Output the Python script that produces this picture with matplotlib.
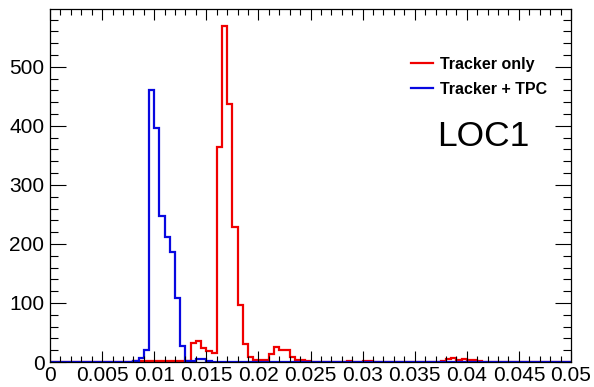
import numpy as np
import matplotlib
matplotlib.use("Agg")
from matplotlib import pyplot as plt
from matplotlib.ticker import MultipleLocator, FixedLocator, FixedFormatter

plt.rcParams['font.family'] = ['Liberation Sans', 'DejaVu Sans']

# 100 bins from 0 to 0.05
x_min, x_max, n_bins = 0.0, 0.05, 100

tracker_only = [
    0, 0, 0, 0, 0, 0, 0, 0, 0, 0, 0, 0, 0, 0, 0, 0, 1, 1, 1, 1,
    1, 1, 1, 1, 1, 1, 1, 33, 35, 24, 18, 16, 365, 570, 437, 229, 97, 30, 9, 3,
    3, 3, 13, 26, 20, 20, 9, 3, 3, 1, 0, 0, 0, 0, 0, 0, 0, 1, 0, 0,
    2, 1, 0, 0, 0, 0, 0, 0, 0, 0, 0, 0, 0, 0, 0, 2, 5, 7, 4, 5,
    3, 4, 2, 0, 0, 0, 0, 0, 0, 0, 0, 0, 0, 0, 0, 0, 0, 0, 0, 0,
]
tracker_tpc = [
    0, 0, 0, 0, 0, 0, 0, 0, 0, 0, 0, 0, 0, 0, 0, 0, 2, 6, 21, 460,
    397, 247, 212, 187, 108, 27, 2, 2, 5, 5, 1, 0, 0, 0, 0, 0, 0, 0, 0, 0,
    0, 0, 0, 0, 0, 0, 0, 0, 0, 0, 0, 0, 0, 0, 0, 0, 0, 0, 0, 0,
    0, 0, 0, 0, 0, 0, 0, 0, 0, 0, 0, 0, 0, 0, 0, 0, 0, 0, 0, 0,
    0, 0, 0, 0, 0, 0, 0, 0, 0, 0, 0, 0, 0, 0, 0, 0, 0, 0, 0, 0,
]
x_ticks = [0, 0.005, 0.01, 0.015, 0.02, 0.025, 0.03, 0.035, 0.04, 0.045, 0.05]
x_tick_labels = ['0', '0.005', '0.01', '0.015', '0.02', '0.025', '0.03',
                 '0.035', '0.04', '0.045', '0.05']
y_ticks = [0, 100, 200, 300, 400, 500]
y_tick_labels = ['0', '100', '200', '300', '400', '500']

edges = np.linspace(x_min, x_max, n_bins + 1)

fig = plt.figure(figsize=(5.94, 3.87), dpi=100)
ax = fig.add_axes([50/594, 1 - 362/387, 521/594, 353/387])

ax.stairs(tracker_only, edges, color='#f00000', lw=1.6, label='Tracker only')
ax.stairs(tracker_tpc, edges, color='#0808e0', lw=1.6, label='Tracker + TPC')

ax.set_xlim(x_min, x_max)
ax.set_ylim(0, 598)

ax.xaxis.set_major_locator(FixedLocator(x_ticks))
ax.xaxis.set_major_formatter(FixedFormatter(x_tick_labels))
ax.xaxis.set_minor_locator(MultipleLocator(0.001))
ax.yaxis.set_major_locator(FixedLocator(y_ticks))
ax.yaxis.set_major_formatter(FixedFormatter(y_tick_labels))
ax.yaxis.set_minor_locator(MultipleLocator(20))

ax.tick_params(which='both', direction='in', top=True, right=True, width=0.8, labelsize=15)
ax.tick_params(axis='x', which='major', length=8, pad=3)
ax.tick_params(axis='x', which='minor', length=4)
ax.tick_params(axis='y', which='major', length=11.5, pad=4)
ax.tick_params(axis='y', which='minor', length=6)
for s in ax.spines.values():
    s.set_linewidth(0.9)

leg = ax.legend(loc='upper left', bbox_to_anchor=(411/594, 1 - 57/387),
                bbox_transform=fig.transFigure, frameon=False, borderpad=0,
                borderaxespad=0, handlelength=1.35, handletextpad=0.45,
                labelspacing=0.62, prop={'weight': 'bold', 'size': 11.5})

fig.text(437/594, 1 - 137/387, 'LOC1', fontsize=25.5, ha='left', va='center')

fig.savefig('out.png', dpi=100)
